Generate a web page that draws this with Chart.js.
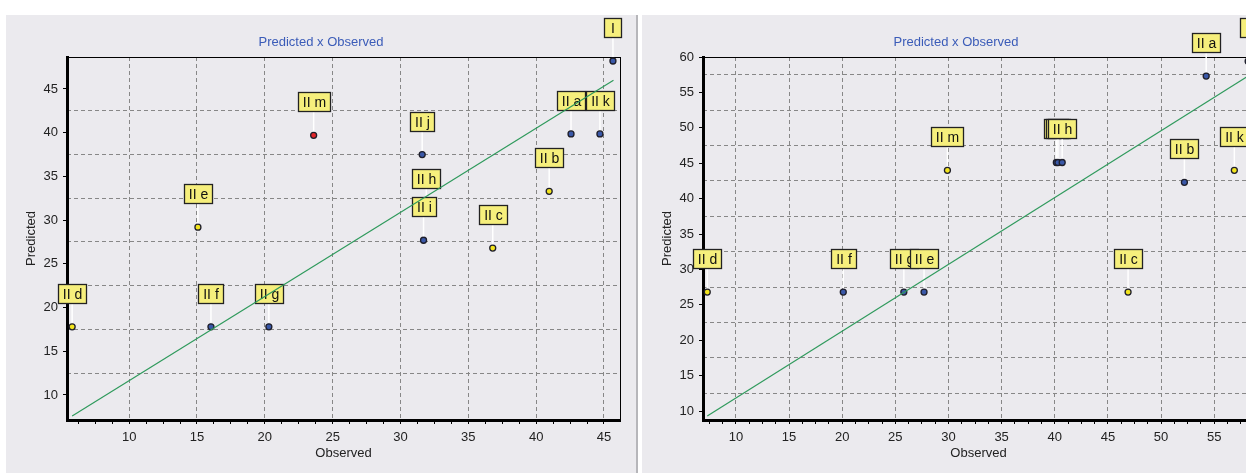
<!DOCTYPE html>
<html>
<head>
<meta charset="utf-8">
<script src="https://cdn.jsdelivr.net/npm/chart.js@4.4.1/dist/chart.umd.min.js"></script>
<style>
  html, body { margin: 0; padding: 0; background: #fff; overflow: hidden; width: 1246px; height: 473px; }
  .panel { position: absolute; top: 15px; height: 458px; background: #ebeaee; }
  #left { left: 6px; width: 630px; }
  #sep { position: absolute; left: 636px; top: 15px; width: 2px; height: 458px; background: #b6b6ba; }
  #right { left: 642px; width: 628px; }
</style>
</head>
<body>
<div class="panel" id="left"><canvas id="c1" width="630" height="458"></canvas></div>
<div id="sep"></div>
<div class="panel" id="right"><canvas id="c2" width="628" height="458"></canvas></div>
<script>
// ---- left chart data
const namesL = ['I', 'II a', 'II k', 'II m', 'II j', 'II b', 'II h', 'II i', 'II c', 'II e', 'II d', 'II f', 'II g'];
const obsL   = [45.66, 42.57, 44.7, 23.6, 31.6, 40.96, 31.9, 31.7, 36.8, 15.07, 5.8, 16.03, 20.3];
const predL  = [48.2, 39.86, 39.86, 39.7, 37.5, 33.3, 30.9, 27.7, 26.8, 29.2, 17.8, 17.8, 17.8];
const groupL = ['B', 'B', 'B', 'R', 'B', 'Y', 'B', 'B', 'Y', 'Y', 'Y', 'B', 'B'];
const fitXL  = [5.8, 45.7];
const fitYL  = [7.6, 46.0];
const xTicksL = [10, 15, 20, 25, 30, 35, 40, 45];
const yTicksL = [10, 15, 20, 25, 30, 35, 40, 45];
const yGridL  = [12.5, 17.5, 22.5, 27.5, 32.5, 37.5, 42.5];

// ---- right chart data
const namesR = ['I', 'II a', 'II m', 'II j', 'II i', 'II h', 'II b', 'II k', 'II c', 'II d', 'II f', 'II g', 'II e'];
const obsR   = [58.2, 54.25, 29.9, 40.15, 40.3, 40.7, 52.2, 56.9, 46.9, 7.3, 20.1, 25.8, 27.7];
const predR  = [59.4, 57.3, 44.0, 45.1, 45.1, 45.1, 42.3, 44.0, 26.8, 26.8, 26.8, 26.8, 26.8];
const groupR = ['B', 'B', 'Y', 'B', 'B', 'B', 'B', 'Y', 'Y', 'Y', 'B', 'B', 'B'];
const fitXR  = [7.3, 58.5];
const fitYR  = [9.3, 57.6];
const xTicksR = [10, 15, 20, 25, 30, 35, 40, 45, 50, 55];
const yTicksR = [10, 15, 20, 25, 30, 35, 40, 45, 50, 55, 60];
const yGridR  = [12.5, 17.5, 22.5, 27.5, 32.5, 37.5, 42.5, 47.5, 52.5, 57.5];

const colorOf = { Y: '#f2e41e', B: '#3a58a8', R: '#e2262a' };
const FONT = '"Liberation Sans", Arial, sans-serif';

function isMajor(v) {
  return Math.abs(v / 5 - Math.round(v / 5)) < 1e-6;
}

// callout boxes with a white leader line above each point
const pointLabels = {
  id: 'pointLabels',
  afterDatasetDraw(chart, args) {
    if (args.index !== 0) return;
    const ctx = chart.ctx;
    const names = chart.data.datasets[0].names;
    ctx.save();
    ctx.font = '14px ' + FONT;
    ctx.textAlign = 'center';
    ctx.textBaseline = 'middle';
    args.meta.data.forEach((pt, i) => {
      const w = Math.max(17, Math.round(ctx.measureText(names[i]).width + 9));
      const h = 19, gap = 24;
      const bx = Math.round(pt.x - w / 2) + 0.5;
      const by = Math.round(pt.y - gap - h) + 0.5;
      ctx.strokeStyle = '#ffffff';
      ctx.lineWidth = 1.5;
      ctx.beginPath();
      ctx.moveTo(pt.x, pt.y - gap);
      ctx.lineTo(pt.x, pt.y - 4);
      ctx.stroke();
      ctx.fillStyle = '#f6ef7c';
      ctx.fillRect(bx, by, w, h);
      ctx.strokeStyle = '#222';
      ctx.lineWidth = 1.3;
      ctx.strokeRect(bx, by, w, h);
      ctx.fillStyle = '#111';
      ctx.fillText(names[i], bx + w / 2, by + h / 2 + 1);
    });
    ctx.restore();
  }
};

function makeChart(id, names, obs, pred, group, fitX, fitY, xTicks, yTicks, yGrid, xr, yr) {
  const pts = obs.map((x, i) => ({ x: x, y: pred[i] }));
  const fit = fitX.map((x, i) => ({ x: x, y: fitY[i] }));
  const minor = [];
  for (let v = Math.ceil(xr[0] / 1.25) * 1.25; v <= xr[1]; v += 1.25) minor.push(v);

  new Chart(document.getElementById(id), {
    type: 'scatter',
    data: {
      datasets: [
        {
          type: 'scatter',
          names: names,
          data: pts,
          order: 2,
          clip: false,
          pointRadius: 3,
          pointBorderWidth: 1.3,
          pointBorderColor: '#1e1e2a',
          pointBackgroundColor: group.map(g => colorOf[g])
        },
        {
          type: 'line',
          data: fit,
          order: 1,
          borderColor: '#2f9a5c',
          borderWidth: 1.2,
          pointRadius: 0,
          fill: false
        }
      ]
    },
    options: {
      responsive: false,
      animation: false,
      events: [],
      layout: { padding: 0 },
      plugins: {
        legend: { display: false },
        tooltip: { enabled: false },
        title: {
          display: true,
          text: 'Predicted x Observed',
          color: '#3b5cb8',
          font: { family: FONT, size: 13, weight: 'normal' },
          padding: { top: 20, bottom: 6.4 }
        }
      },
      scales: {
        x: {
          type: 'linear', position: 'bottom', min: xr[0], max: xr[1],
          afterBuildTicks: axis => { axis.ticks = minor.map(v => ({ value: v })); },
          afterFit: s => { s.height = 53; },
          grid: {
            color: c => (c.tick && isMajor(c.tick.value)) ? '#878787' : 'rgba(0,0,0,0)',
            lineWidth: 1,
            tickColor: '#000',
            tickLength: 4
          },
          border: { color: '#000', width: 3, dash: [4, 3] },
          ticks: {
            autoSkip: false, maxRotation: 0, padding: 6, color: '#222',
            font: { family: FONT, size: 13 },
            callback: v => (xTicks.indexOf(v) >= 0 ? String(v) : '')
          },
          title: {
            display: true, text: 'Observed', color: '#222',
            font: { family: FONT, size: 13 },
            padding: { top: 0, bottom: 12 }
          }
        },
        y: {
          type: 'linear', position: 'left', min: yr[0], max: yr[1],
          afterBuildTicks: axis => { axis.ticks = yTicks.map(v => ({ value: v })); },
          afterFit: s => { s.width = 61; },
          grid: { drawOnChartArea: false, tickColor: '#000', tickLength: 4 },
          border: { color: '#000', width: 3 },
          ticks: { padding: 5, color: '#222', font: { family: FONT, size: 13 } },
          title: {
            display: true, text: 'Predicted', color: '#222',
            font: { family: FONT, size: 13 },
            padding: { top: 18, bottom: 0 }
          }
        },
        yg: {
          type: 'linear', position: 'right', min: yr[0], max: yr[1],
          afterBuildTicks: axis => { axis.ticks = yGrid.map(v => ({ value: v })); },
          afterFit: s => { s.width = 16; },
          grid: { color: '#878787', lineWidth: 1, drawTicks: false },
          border: { color: '#000', width: 1, dash: [4, 3] },
          ticks: { display: false }
        },
        xt: {
          type: 'linear', position: 'top', min: xr[0], max: xr[1],
          afterFit: s => { s.height = 0; },
          grid: { display: false },
          border: { color: '#000', width: 1 },
          ticks: { display: false }
        }
      }
    },
    plugins: [pointLabels]
  });
}

makeChart('c1', namesL, obsL, predL, groupL, fitXL, fitYL, xTicksL, yTicksL, yGridL, [5.42, 46.18], [7.14, 48.66]);
makeChart('c2', namesR, obsR, predR, groupR, fitXR, fitYR, xTicksR, yTicksR, yGridR, [6.9, 58.75], [8.73, 60]);
</script>
</body>
</html>
